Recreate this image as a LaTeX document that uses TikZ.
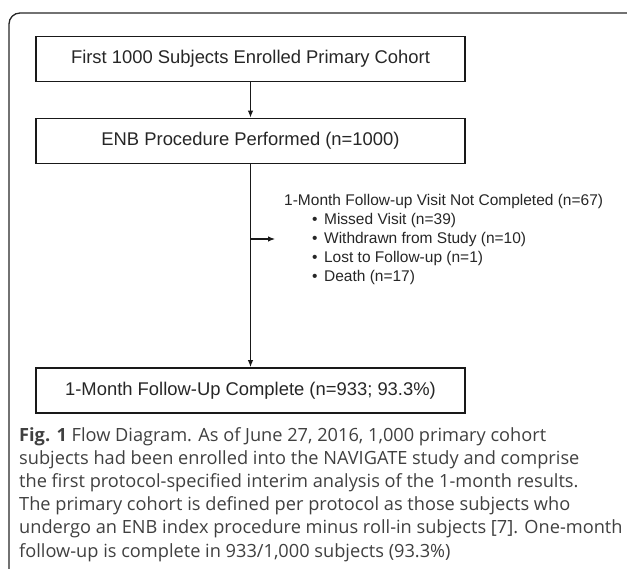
\documentclass[tikz,border=0pt]{standalone}
\usepackage{fontspec}
\setmainfont{Liberation Sans}
\newfontfamily\capfont{Open Sans}
\usetikzlibrary{arrows.meta}

\tikzset{
  flowbox/.style={draw=black!90, line width=1.8pt, minimum width=429pt, minimum height=45pt,
    inner sep=0pt, font=\fontsize{18.4}{22}\selectfont, text=black!85},
  flowarrow/.style={-{Latex[length=7pt,width=5.5pt]}, line width=1.1pt, draw=black!90}
}
\newcommand{\dropitem}{\hspace{28pt}\textbullet\hspace{6.5pt}}

\begin{document}
\begin{tikzpicture}[x=1pt,y=-1pt]
  \useasboundingbox (0,0) rectangle (627,569);

  % Frame of the figure
  \draw[line width=1.3pt, draw=black!85, rounded corners=11pt] (9,570) -- (9,13) -- (628,13);

  % Boxes
  \node[flowbox] (enrolled) at (250.5,59) {First 1000 Subjects Enrolled Primary Cohort};
  \node[flowbox] (enb) at (250.5,141) {ENB Procedure Performed (n=1000)};
  \node[flowbox] (complete) at (250.5,390.5) {1-Month Follow-Up Complete (n=933; 93.3\%)};

  % Excluded subjects
  \node[anchor=west, align=left, inner sep=0pt, font=\fontsize{15.5}{19}\selectfont, text=black!85]
    (notdone) at (284,239) {1-Month Follow-up Visit Not Completed (n=67)\\
    \dropitem Missed Visit (n=39)\\
    \dropitem Withdrawn from Study (n=10)\\
    \dropitem Lost to Follow-up (n=1)\\
    \dropitem Death (n=17)};
  \coordinate (split) at (enb.south |- notdone.west);

  % Draw arrows
  \draw[flowarrow] (enrolled) -- (enb);
  \draw[flowarrow] (enb) -- (complete);
  \draw[flowarrow, shorten >=9pt] (split) -- (notdone.west);

  % Caption
  \node[anchor=north west, align=left, inner sep=0pt, text=black!75,
    font=\capfont\fontsize{18.2}{23.2}\selectfont] (caption) at (19,427)
    {\textbf{Fig. 1} Flow Diagram. As of June 27, 2016, 1,000 primary cohort\\
    subjects had been enrolled into the NAVIGATE study and comprise\\
    the first protocol-specified interim analysis of the 1-month results.\\
    The primary cohort is defined per protocol as those subjects who\\
    undergo an ENB index procedure minus roll-in subjects [7]. One-month\\
    follow-up is complete in 933/1,000 subjects (93.3\%)};
\end{tikzpicture}
\end{document}
